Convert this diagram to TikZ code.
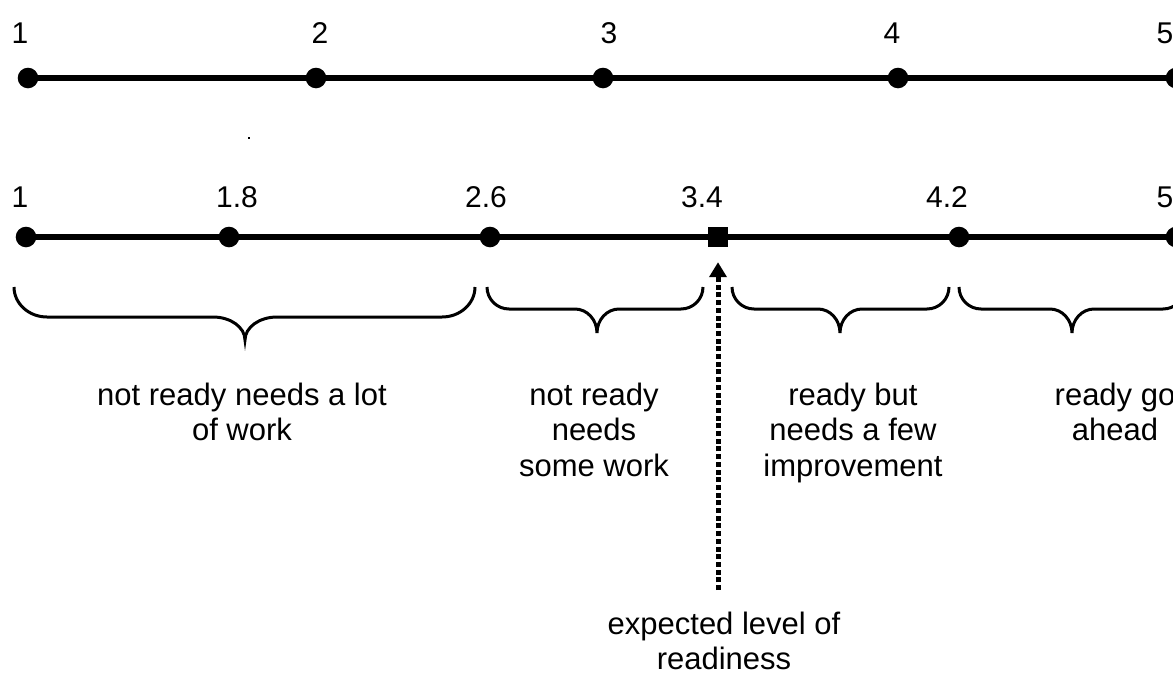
\documentclass[tikz,border=0pt]{standalone}
\usepackage{fontspec}
\setmainfont{Liberation Sans}
\usetikzlibrary{arrows.meta}
\begin{document}
\begin{tikzpicture}[x=1pt,y=-1pt,
  dot/.style={circle,fill=black,inner sep=0pt,minimum size=20.6pt},
  sqmark/.style={rectangle,fill=black,inner sep=0pt,minimum size=20pt},
  axis/.style={line width=5.5pt},
  num/.style={anchor=base,inner sep=0pt,font=\fontsize{30}{36}\selectfont},
  txt/.style={anchor=base,inner sep=0pt,align=center,font=\fontsize{31}{35.5}\selectfont},
  bracestroke/.style={line width=3pt},
  dotarrow/.style={line width=5pt,dash pattern=on 5pt off 2.7pt,
    -{Triangle[width=17pt,length=15pt]}}]
\useasboundingbox (0,0) rectangle (1173,675);
\clip (0,0) rectangle (1173,675);

% upper scale 1..5
\node[dot] (t1) at (28,78) {};
\node[dot] (t2) at (316,78) {};
\node[dot] (t3) at (603,78) {};
\node[dot] (t4) at (898,78) {};
\node[dot] (t5) at (1176,78) {};
\draw[axis] (t1.center) -- (t2.center) -- (t3.center) -- (t4.center) -- (t5.center);
\node[num] (lt1) at (20,43) {1};
\node[num] (lt2) at (320,43) {2};
\node[num] (lt3) at (609,43) {3};
\node[num] (lt4) at (892,43) {4};
\node[num] (lt5) at (1165,43) {5};

\fill (248,137) rectangle (250,139);

% lower scale with class limits
\node[dot] (b1) at (26,237) {};
\node[dot] (b2) at (229,237) {};
\node[dot] (b3) at (490,237) {};
\node[sqmark] (b4) at (718,237) {};
\node[dot] (b5) at (959,237) {};
\node[dot] (b6) at (1176,237) {};
\draw[axis] (b1.center) -- (b2.center) -- (b3.center) -- (b4.center) -- (b5.center) -- (b6.center);
\node[num] (lb1) at (20,207) {1};
\node[num] (lb2) at (237,207) {1.8};
\node[num] (lb3) at (486,207) {2.6};
\node[num] (lb4) at (702,207) {3.4};
\node[num] (lb5) at (947,207) {4.2};
\node[num] (lb6) at (1165,207) {5};

% braces under each class
\foreach \xl/\xr/\xm/\cw/\yf/\hw/\tipd in
  {14/475/245/33/317/32/23, 487/703/597/22/309/22/24,
   732/949/840/22/309/22/24, 959/1185/1072/22/309/22/24}{
  \pgfmathsetmacro\kk{0.552}
  \draw[bracestroke] (\xl,287)
    .. controls (\xl,{287+\kk*(\yf-287)}) and ({\xl+(1-\kk)*\cw},\yf) .. ({\xl+\cw},\yf)
    -- ({\xm-\hw},\yf)
    .. controls ({\xm-\hw+\kk*\hw},\yf) and (\xm,{\yf+(1-\kk)*\tipd}) .. (\xm,{\yf+\tipd})
    .. controls (\xm,{\yf+(1-\kk)*\tipd}) and ({\xm+\hw-\kk*\hw},\yf) .. ({\xm+\hw},\yf)
    -- ({\xr-\cw},\yf)
    .. controls ({\xr-(1-\kk)*\cw},\yf) and (\xr,{287+\kk*(\yf-287)}) .. (\xr,287);
}

% class descriptions (anchored at the baseline of the last line)
\node[txt] (c1) at (242,440.5) {not ready needs a lot\\of work};
\node[txt] (c2) at (594,476) {not ready\\needs\\some work};
\node[txt] (c3) at (853,476) {ready but\\needs a few\\improvement};
\node[txt] (c4) at (1115,440.5) {ready go\\ahead};

% expected level marker
\node[txt] (expl) at (724,669.5) {expected level of\\readiness};
\coordinate (foot) at (718,590);
\draw[dotarrow,shorten >=15pt] (foot) -- (b4.south);
\end{tikzpicture}
\end{document}
